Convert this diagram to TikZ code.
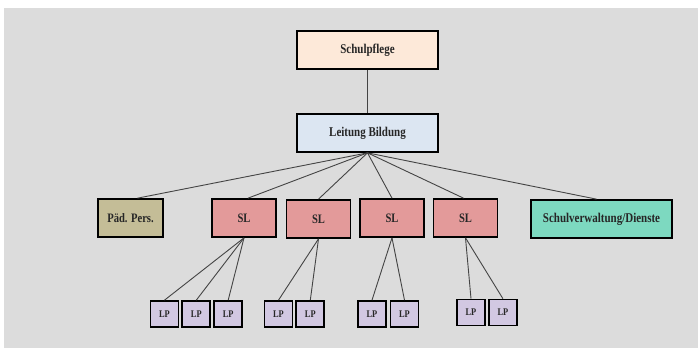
\documentclass[tikz,border=0pt]{standalone}
\usepackage{fontspec}
\newfontfamily\lblfont[FakeStretch=0.82]{Liberation Serif}
\definecolor{bggray}{HTML}{DCDCDC}
\definecolor{peach}{HTML}{FDE9D9}
\definecolor{lblue}{HTML}{DCE6F2}
\definecolor{khaki}{HTML}{C4BD97}
\definecolor{slred}{HTML}{E39A9A}
\definecolor{teal}{HTML}{7DD9C0}
\definecolor{lav}{HTML}{D2C8E2}
\definecolor{txt}{HTML}{262626}
\definecolor{conn}{HTML}{444444}
\begin{document}
\begin{tikzpicture}[x=1pt,y=-1pt,
  box/.style={draw=black,line width=1.7pt,inner sep=0pt,text=txt,font=\lblfont\bfseries},
  bigbox/.style={box,minimum width=141pt,minimum height=38pt,font=\lblfont\bfseries\fontsize{13.4}{15}\selectfont},
  slbox/.style={box,fill=slred,minimum width=64pt,minimum height=38pt,font=\lblfont\bfseries\fontsize{12.9}{15}\selectfont},
  lpbox/.style={box,fill=lav,minimum width=28pt,minimum height=26pt,font=\lblfont\bfseries\fontsize{10.2}{12}\selectfont},
  conline/.style={draw=conn,line width=0.9pt}]
\useasboundingbox (0,0) rectangle (698,349);
\fill[white] (0,0) rectangle (698,349);
\fill[bggray] (4,8) rectangle (698,348);

\node[bigbox,fill=peach] (sp) at (367.5,50) {Schulpflege};
\node[bigbox,fill=lblue] (lb) at (367.5,133) {Leitung Bildung};

\node[box,fill=khaki,minimum width=65pt,minimum height=38pt,font=\lblfont\bfseries\fontsize{12.9}{15}\selectfont] (pp) at (130.5,218) {Päd. Pers.};
\node[slbox] (sl1) at (244,218) {SL};
\node[slbox] (sl2) at (318.5,219) {SL};
\node[slbox] (sl3) at (392,218) {SL};
\node[slbox] (sl4) at (465.5,218) {SL};
\node[bigbox,fill=teal] (sv) at (601.5,219) {Schulverwaltung/Dienste};

\node[lpbox] (lp1) at (164.5,314) {LP};
\node[lpbox] (lp2) at (196.3,314) {LP};
\node[lpbox] (lp3) at (228.2,314) {LP};
\node[lpbox] (lp4) at (278.5,314) {LP};
\node[lpbox] (lp5) at (310.3,314) {LP};
\node[lpbox] (lp6) at (372,314) {LP};
\node[lpbox] (lp7) at (404.5,314) {LP};
\node[lpbox] (lp8) at (471,312.5) {LP};
\node[lpbox] (lp9) at (502.9,312.5) {LP};

\draw[conline] (sp) -- (lb);
\draw[conline] (lb.south) -- ([xshift=7pt]pp.north);
\draw[conline] (lb.south) -- ([xshift=4pt]sl1.north);
\draw[conline] (lb.south) -- (sl2.north);
\draw[conline] (lb.south) -- (sl3.north);
\draw[conline] (lb.south) -- ([xshift=-2pt]sl4.north);
\draw[conline] (lb.south) -- ([xshift=-5pt]sv.north);
\foreach \t in {lp1,lp2,lp3} \draw[conline] (sl1.south) -- (\t.north);
\foreach \t in {lp4,lp5} \draw[conline] (sl2.south) -- (\t.north);
\foreach \t in {lp6,lp7} \draw[conline] (sl3.south) -- (\t.north);
\foreach \t in {lp8,lp9} \draw[conline] (sl4.south) -- (\t.north);
\end{tikzpicture}
\end{document}
